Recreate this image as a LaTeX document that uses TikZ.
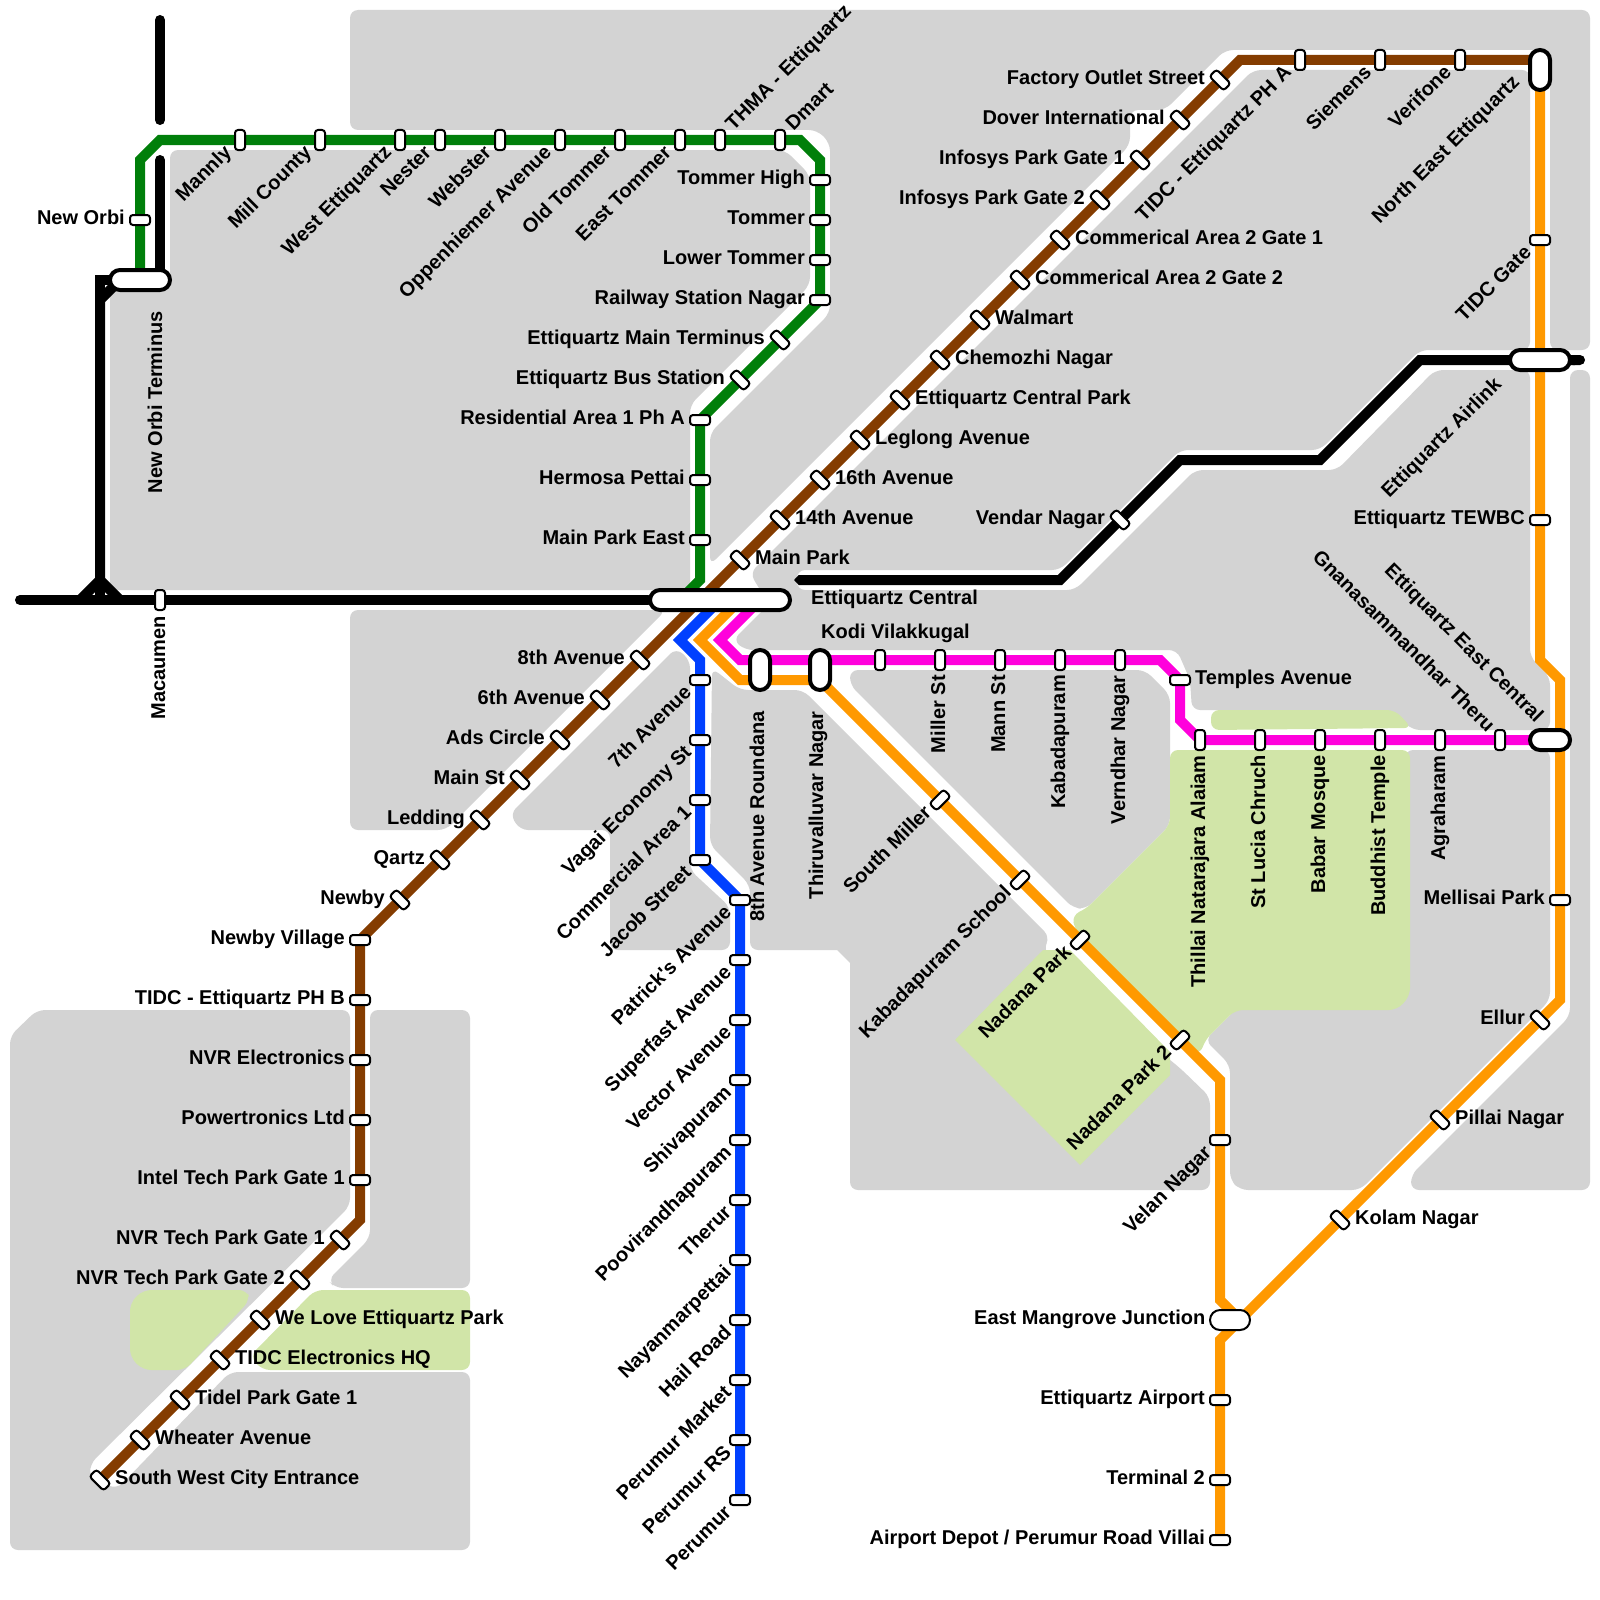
\documentclass[tikz,border=0pt]{standalone}
\usepackage{fontspec}
\usetikzlibrary{arrows.meta,positioning}
\newfontfamily\mapfont{Liberation Sans}
\pgfdeclarelayer{blocks}
\pgfdeclarelayer{tracks}
\pgfsetlayers{blocks,tracks,main}
\definecolor{blockgrey}{HTML}{D3D3D3}
\definecolor{parkgreen}{HTML}{D1E5A8}
\definecolor{linegreen}{HTML}{007F0A}
\definecolor{linebrown}{HTML}{843C00}
\definecolor{lineblue}{HTML}{0040FF}
\definecolor{lineorange}{HTML}{FF9900}
\definecolor{linepink}{HTML}{FF00DC}

\begin{document}
\begin{tikzpicture}[
  x=1pt, y=-1pt,
  stah/.style={draw, line width=2pt, fill=white, rounded corners=3pt,
               minimum width=20pt, minimum height=10pt, inner sep=0pt},
  stav/.style={stah, rotate=90},
  stad/.style={stah, rotate=-45},
  stae/.style={stah, rotate=45},
  pillh/.style={draw, line width=4pt, fill=white, rounded corners=10pt,
                minimum width=60pt, minimum height=20pt, inner sep=0pt},
  pillv/.style={pillh, minimum width=20pt, minimum height=40pt},
  lab/.style={font=\mapfont\bfseries\fontsize{20}{24}\selectfont, inner sep=0pt,
              text height=14pt, text depth=4pt},
  labl/.style={lab, yshift=0.5pt},
  labr/.style={lab, yshift=0.5pt},
  labu/.style={lab, rotate=90, anchor=east, xshift=-2pt},
  labd/.style={lab, rotate=45, anchor=east},
  labn/.style={lab, rotate=45, anchor=west},
  labs/.style={lab, rotate=-45, anchor=east},
  block/.style={fill=blockgrey, rounded corners=8pt},
  park/.style={fill=parkgreen, rounded corners=8pt},
  track/.style={line width=10pt},
  darktrack/.style={track, black},
  darkend/.style={darktrack, line cap=round}
]
\useasboundingbox (0,0) rectangle (1600,1600);

\node[stav] (mannly) at (240,140) {};
\node[below left=10pt and 11pt of mannly.center, labd] (mannlyt) {Mannly};
\node[stav] (millc) at (320,140) {};
\node[below left=10pt and 11pt of millc.center, labd] (millct) {Mill County};
\node[stav] (westet) at (400,140) {};
\node[below left=10pt and 11pt of westet.center, labd] (westett) {West Ettiquartz};
\node[stav] (nester) at (440,140) {};
\node[below left=10pt and 11pt of nester.center, labd] (nestert) {Nester};
\node[stav] (webster) at (500,140) {};
\node[below left=10pt and 11pt of webster.center, labd] (webstert) {Webster};
\node[stav] (oppen) at (560,140) {};
\node[below left=10pt and 11pt of oppen.center, labd] (oppent) {Oppenhiemer Avenue};
\node[stav] (oldtom) at (620,140) {};
\node[below left=10pt and 11pt of oldtom.center, labd] (oldtomt) {Old Tommer};
\node[stav] (easttom) at (680,140) {};
\node[below left=10pt and 11pt of easttom.center, labd] (easttomt) {East Tommer};
\node[stav] (thma) at (720,140) {};
\node[above right=12pt and 10pt of thma.center, labn] (thmat) {THMA - Ettiquartz};
\node[stav] (dmart) at (780,140) {};
\node[above right=12pt and 10pt of dmart.center, labn] (dmartt) {Dmart};
\node[stah] (tomhigh) at (820,180) {};
\node[labl, left=15pt of tomhigh.center] (tomhight) {Tommer High};
\node[stah] (tommer) at (820,220) {};
\node[labl, left=15pt of tommer.center] (tommert) {Tommer};
\node[stah] (lowtom) at (820,260) {};
\node[labl, left=15pt of lowtom.center] (lowtomt) {Lower Tommer};
\node[stah] (railn) at (820,300) {};
\node[labl, left=15pt of railn.center] (railnt) {Railway Station Nagar};
\node[stad] (mainterm) at (780,340) {};
\node[labl, left=15pt of mainterm.center] (maintermt) {Ettiquartz Main Terminus};
\node[stad] (busst) at (740,380) {};
\node[labl, left=15pt of busst.center] (busstt) {Ettiquartz Bus Station};
\node[stah] (resid) at (700,420) {};
\node[labl, left=15pt of resid.center] (residt) {Residential Area 1 Ph A};
\node[stah] (hermosa) at (700,480) {};
\node[labl, left=15pt of hermosa.center] (hermosat) {Hermosa Pettai};
\node[stah] (parkeast) at (700,540) {};
\node[labl, left=15pt of parkeast.center] (parkeastt) {Main Park East};
\node[stah] (neworbi) at (140,220) {};
\node[labl, left=15pt of neworbi.center] (neworbit) {New Orbi};
\node[pillh] (orbiterm) at (140,280) {};
\node[lab, rotate=90, anchor=east] (orbitermt) at (157,311) {New Orbi Terminus};
\node[stav] (macau) at (160,600) {};
\node[below=14pt of macau.center, labu] (macaut) {Macaumen};

\node[stad] (swcity) at (100,1480) {};
\node[labr, right=15pt of swcity.center] (swcityt) {South West City Entrance};
\node[stad] (wheater) at (140,1440) {};
\node[labr, right=15pt of wheater.center] (wheatert) {Wheater Avenue};
\node[stad] (tidel) at (180,1400) {};
\node[labr, right=15pt of tidel.center] (tidelt) {Tidel Park Gate 1};
\node[stad] (tidchq) at (220,1360) {};
\node[labr, right=15pt of tidchq.center] (tidchqt) {TIDC Electronics HQ};
\node[stad] (welove) at (260,1320) {};
\node[labr, right=15pt of welove.center] (welovet) {We Love Ettiquartz Park};
\node[stad] (nvrtwo) at (300,1280) {};
\node[labl, left=15pt of nvrtwo.center] (nvrtwot) {NVR Tech Park Gate 2};
\node[stad] (nvrone) at (340,1240) {};
\node[labl, left=15pt of nvrone.center] (nvronet) {NVR Tech Park Gate 1};
\node[stah] (intel) at (360,1180) {};
\node[labl, left=15pt of intel.center] (intelt) {Intel Tech Park Gate 1};
\node[stah] (power) at (360,1120) {};
\node[labl, left=15pt of power.center] (powert) {Powertronics Ltd};
\node[stah] (nvrel) at (360,1060) {};
\node[labl, left=15pt of nvrel.center] (nvrelt) {NVR Electronics};
\node[stah] (tidcb) at (360,1000) {};
\node[labl, left=15pt of tidcb.center] (tidcbt) {TIDC - Ettiquartz PH B};
\node[stah] (newbyv) at (360,940) {};
\node[labl, left=15pt of newbyv.center] (newbyvt) {Newby Village};
\node[stad] (newby) at (400,900) {};
\node[labl, left=15pt of newby.center] (newbyt) {Newby};
\node[stad] (qartz) at (440,860) {};
\node[labl, left=15pt of qartz.center] (qartzt) {Qartz};
\node[stad] (ledding) at (480,820) {};
\node[labl, left=15pt of ledding.center] (leddingt) {Ledding};
\node[stad] (mainst) at (520,780) {};
\node[labl, left=15pt of mainst.center] (mainstt) {Main St};
\node[stad] (adscirc) at (560,740) {};
\node[labl, left=15pt of adscirc.center] (adscirct) {Ads Circle};
\node[stad] (avsix) at (600,700) {};
\node[labl, left=15pt of avsix.center] (avsixt) {6th Avenue};
\node[stad] (aveight) at (640,660) {};
\node[labl, left=15pt of aveight.center] (aveightt) {8th Avenue};
\node[stad] (mainpark) at (740,560) {};
\node[labr, right=15pt of mainpark.center] (mainparkt) {Main Park};
\node[stad] (avfourt) at (780,520) {};
\node[labr, right=15pt of avfourt.center] (avfourtt) {14th Avenue};
\node[stad] (avsixteen) at (820,480) {};
\node[labr, right=15pt of avsixteen.center] (avsixteent) {16th Avenue};
\node[stad] (leglong) at (860,440) {};
\node[labr, right=15pt of leglong.center] (leglongt) {Leglong Avenue};
\node[stad] (cpark) at (900,400) {};
\node[labr, right=15pt of cpark.center] (cparkt) {Ettiquartz Central Park};
\node[stad] (chemozhi) at (940,360) {};
\node[labr, right=15pt of chemozhi.center] (chemozhit) {Chemozhi Nagar};
\node[stad] (walmart) at (980,320) {};
\node[labr, right=15pt of walmart.center] (walmartt) {Walmart};
\node[stad] (cagtwo) at (1020,280) {};
\node[labr, right=15pt of cagtwo.center] (cagtwot) {Commerical Area 2 Gate 2};
\node[stad] (cagone) at (1060,240) {};
\node[labr, right=15pt of cagone.center] (cagonet) {Commerical Area 2 Gate 1};
\node[stad] (inftwo) at (1100,200) {};
\node[labl, left=15pt of inftwo.center] (inftwot) {Infosys Park Gate 2};
\node[stad] (infone) at (1140,160) {};
\node[labl, left=15pt of infone.center] (infonet) {Infosys Park Gate 1};
\node[stad] (dover) at (1180,120) {};
\node[labl, left=15pt of dover.center] (dovert) {Dover International};
\node[stad] (factory) at (1220,80) {};
\node[labl, left=15pt of factory.center] (factoryt) {Factory Outlet Street};
\node[stav] (tidca) at (1300,60) {};
\node[below left=10pt and 11pt of tidca.center, labd] (tidcat) {TIDC - Ettiquartz PH A};
\node[stav] (siemens) at (1380,60) {};
\node[below left=10pt and 11pt of siemens.center, labd] (siemenst) {Siemens};
\node[stav] (verifone) at (1460,60) {};
\node[below left=10pt and 11pt of verifone.center, labd] (verifonet) {Verifone};
\node[pillv] (nepill) at (1540,70) {};
\node[lab, rotate=45, anchor=east] (nepillt) at (1517,80) {North East Ettiquartz};

\node[pillh, minimum width=140pt] (central) at (720,600) {};
\node[labr, anchor=west] (centralt) at (811,600) {Ettiquartz Central};
\node[stah] (avseven) at (700,680) {};
\node[below left=10pt and 11pt of avseven.center, labd] (avsevent) {7th Avenue};
\node[stah] (vagai) at (700,740) {};
\node[below left=10pt and 11pt of vagai.center, labd] (vagait) {Vagai Economy St};
\node[stah] (commone) at (700,800) {};
\node[below left=10pt and 11pt of commone.center, labd] (commonet) {Commercial Area 1};
\node[stah] (jacob) at (700,860) {};
\node[below left=10pt and 11pt of jacob.center, labd] (jacobt) {Jacob Street};
\node[stah] (patrick) at (740,900) {};
\node[below left=10pt and 11pt of patrick.center, labd] (patrickt) {Patrick's Avenue};
\node[stah] (superf) at (740,960) {};
\node[below left=10pt and 11pt of superf.center, labd] (superft) {Superfast Avenue};
\node[stah] (vector) at (740,1020) {};
\node[below left=10pt and 11pt of vector.center, labd] (vectort) {Vector Avenue};
\node[stah] (shiva) at (740,1080) {};
\node[below left=10pt and 11pt of shiva.center, labd] (shivat) {Shivapuram};
\node[stah] (poovi) at (740,1140) {};
\node[below left=10pt and 11pt of poovi.center, labd] (poovit) {Poovirandhapuram};
\node[stah] (therur) at (740,1200) {};
\node[below left=10pt and 11pt of therur.center, labd] (therurt) {Therur};
\node[stah] (nayan) at (740,1260) {};
\node[below left=10pt and 11pt of nayan.center, labd] (nayant) {Nayanmarpettai};
\node[stah] (hail) at (740,1320) {};
\node[below left=10pt and 11pt of hail.center, labd] (hailt) {Hail Road};
\node[stah] (pmarket) at (740,1380) {};
\node[below left=10pt and 11pt of pmarket.center, labd] (pmarkett) {Perumur Market};
\node[stah] (prs) at (740,1440) {};
\node[below left=10pt and 11pt of prs.center, labd] (prst) {Perumur RS};
\node[stah] (perumur) at (740,1500) {};
\node[below left=10pt and 11pt of perumur.center, labd] (perumurt) {Perumur};

\node[pillv] (roundana) at (760,670) {};
\node[lab, rotate=90, anchor=east] (roundanat) at (759,711) {8th Avenue Roundana};
\node[pillv] (thiru) at (820,670) {};
\node[lab, rotate=90, anchor=east] (thirut) at (818,711) {Thiruvalluvar Nagar};
\node[stae] (southm) at (940,800) {};
\node[below left=10pt and 11pt of southm.center, labd] (southmt) {South Miller};
\node[stae] (kabsch) at (1020,880) {};
\node[below left=10pt and 11pt of kabsch.center, labd] (kabscht) {Kabadapuram School};
\node[stae] (nadana) at (1080,940) {};
\node[below left=10pt and 11pt of nadana.center, labd] (nadanat) {Nadana Park};
\node[stae] (nadtwo) at (1180,1040) {};
\node[below left=10pt and 11pt of nadtwo.center, labd] (nadtwot) {Nadana Park 2};
\node[stah] (velan) at (1220,1140) {};
\node[below left=10pt and 11pt of velan.center, labd] (velant) {Velan Nagar};
\node[pillh, line width=2pt, minimum width=40pt] (mangrove) at (1230,1320) {};
\node[labl, anchor=east] (mangrovet) at (1205.5,1320) {East Mangrove Junction};
\node[stah] (airport) at (1220,1400) {};
\node[labl, left=15pt of airport.center] (airportt) {Ettiquartz Airport};
\node[stah] (termtwo) at (1220,1480) {};
\node[labl, left=15pt of termtwo.center] (termtwot) {Terminal 2};
\node[stah] (depot) at (1220,1540) {};
\node[labl, left=15pt of depot.center] (depott) {Airport Depot / Perumur Road Villai};
\node[stah] (tidcg) at (1540,240) {};
\node[below left=10pt and 11pt of tidcg.center, labd] (tidcgt) {TIDC Gate};
\node[pillh] (airlink) at (1540,360) {};
\node[lab, rotate=45, anchor=east] (airlinkt) at (1499,382) {Ettiquartz Airlink};
\node[stah] (tewbc) at (1540,520) {};
\node[labl, left=15pt of tewbc.center] (tewbct) {Ettiquartz TEWBC};
\node[stah] (mellisai) at (1560,900) {};
\node[labl, left=15pt of mellisai.center] (mellisait) {Mellisai Park};
\node[stad] (ellur) at (1540,1020) {};
\node[labl, left=15pt of ellur.center] (ellurt) {Ellur};
\node[stad] (pillai) at (1440,1120) {};
\node[labr, right=15pt of pillai.center] (pillait) {Pillai Nagar};
\node[stad] (kolam) at (1340,1220) {};
\node[labr, right=15pt of kolam.center] (kolamt) {Kolam Nagar};
\node[stad] (vendar) at (1120,520) {};
\node[labl, left=15pt of vendar.center] (vendart) {Vendar Nagar};

\node[stav] (kodi) at (880,660) {};
\node[labl, anchor=west] (kodit) at (821,634) {Kodi Vilakkugal};
\node[stav] (millerst) at (940,660) {};
\node[below=13pt of millerst.center, labu] (millerstt) {Miller St};
\node[stav] (mannst) at (1000,660) {};
\node[below=13pt of mannst.center, labu] (mannstt) {Mann St};
\node[stav] (kabad) at (1060,660) {};
\node[below=13pt of kabad.center, labu] (kabadt) {Kabadapuram};
\node[stav] (verndhar) at (1120,660) {};
\node[below=13pt of verndhar.center, labu] (verndhart) {Verndhar Nagar};
\node[stah] (temples) at (1180,680) {};
\node[labr, right=15pt of temples.center] (templest) {Temples Avenue};
\node[stav] (thillai) at (1200,740) {};
\node[below=13pt of thillai.center, labu] (thillait) {Thillai Natarajara Alaiam};
\node[stav] (stlucia) at (1260,740) {};
\node[below=13pt of stlucia.center, labu] (stluciat) {St Lucia Chruch};
\node[stav] (babar) at (1320,740) {};
\node[below=13pt of babar.center, labu] (babart) {Babar Mosque};
\node[stav] (buddhist) at (1380,740) {};
\node[below=13pt of buddhist.center, labu] (buddhistt) {Buddhist Temple};
\node[stav] (agra) at (1440,740) {};
\node[below=13pt of agra.center, labu] (agrat) {Agraharam};
\node[stav] (gnana) at (1500,740) {};
\node[above left=10pt and 9.5pt of gnana.center, labs] (gnanat) {Gnanasammandhar Theru};
\node[pillh, minimum width=40pt] (eastcen) at (1550,740) {};
\node[lab, rotate=-45, anchor=east] (eastcent) at (1539,720) {Ettiquartz East Central};

\coordinate (grA) at (140,280);
\coordinate (grB) at (140,160);
\coordinate (grC) at (160,140);
\coordinate (grD) at (800,140);
\coordinate (grE) at (820,160);
\coordinate (grF) at (700,580);
\coordinate (grG) at (680,600);
\coordinate (brA) at (360,1220);
\coordinate (brB) at (1240,60);
\coordinate (brC) at (1540,60);
\coordinate (blA) at (720,600);
\coordinate (blB) at (680,640);
\coordinate (blC) at (700,660);
\coordinate (orA) at (740,600);
\coordinate (orB) at (700,640);
\coordinate (orC) at (740,680);
\coordinate (orD) at (820,680);
\coordinate (orE) at (1220,1080);
\coordinate (orF) at (1220,1300);
\coordinate (orG) at (1240,1320);
\coordinate (orH) at (1220,1340);
\coordinate (orI) at (1560,1000);
\coordinate (orJ) at (1560,680);
\coordinate (orK) at (1540,660);
\coordinate (piA) at (760,600);
\coordinate (piB) at (720,640);
\coordinate (piC) at (740,660);
\coordinate (piD) at (1160,660);
\coordinate (piE) at (1180,720);
\coordinate (piF) at (1540,740);
\coordinate (daA) at (160,20);
\coordinate (daB) at (160,120);
\coordinate (daC) at (160,160);
\coordinate (daD) at (160,280);
\coordinate (daE) at (100,280);
\coordinate (daF) at (100,580);
\coordinate (daG) at (80,600);
\coordinate (daH) at (120,600);
\coordinate (daI) at (120,280);
\coordinate (daJ) at (100,300);
\coordinate (daK) at (20,600);
\coordinate (daL) at (794,580);
\coordinate (daM) at (1060,580);
\coordinate (daN) at (1180,460);
\coordinate (daO) at (1320,460);
\coordinate (daP) at (1420,360);
\coordinate (daQ) at (1585,360);
\coordinate (daR) at (100,600);

\begin{pgfonlayer}{blocks}
\fill[block] (350,10) -- (1590,10) -- (1590,350) -- (1550,350) -- (1550,50) -- (1225,50)
  -- (1165,110) -- (1130,110) -- (1130,145) -- (710,565) -- (710,433) -- (830,313)
  -- (830,143) -- (817,130) -- (350,130) -- cycle;
\fill[block] (170,150) -- (785,150) -- (810,175) -- (810,285) -- (690,405) -- (690,590)
  -- (110,590) -- (110,285) -- (170,285) -- cycle;
\fill[block] (1253,70) -- (1530,70) -- (1530,350) -- (1420,350) -- (1320,450) -- (1180,450)
  -- (1060,570) -- (797,570) -- (797,590) -- (1075,590) -- (1195,470) -- (1337,470)
  -- (1435,370) -- (1530,370) -- (1530,657) -- (1550,677) -- (1550,730) -- (1412,730)
  -- (1392,710) -- (1192,710) -- (1190,680) -- (1177,650) -- (745,650) -- (733,640)
  -- (770,603) -- (760,590) -- (750,573) -- cycle;
\fill[block] (350,610) -- (666,610) -- (446,830) -- (350,830) -- cycle;
\fill[block] (676,648) -- (690,660) -- (690,870) -- (730,907) -- (730,950) -- (610,950)
  -- (610,830) -- (520,830) -- (510,814) -- cycle;
\fill[block] (712,668) -- (740,690) -- (803,690) -- (1050,937) -- (1043,950) -- (1170,1060)
  -- (1180,1068) -- (1210,1097) -- (1210,1190) -- (850,1190)
  [sharp corners] -- (850,963) -- (837,950)
  [rounded corners=8pt] -- (750,950) -- (750,885) -- (710,845) -- cycle;
\fill[block] (850,670) -- (1145,670) -- (1170,695) -- (1170,825) -- (1086,909) -- (1073,908)
  -- (850,685) -- cycle;
\fill[block] (1405,750) -- (1550,750) -- (1550,1000) -- (1360,1190) -- (1240,1190)
  -- (1230,1180) -- (1230,1065) -- (1205,1040) -- (1240,1005) -- (1405,1005) -- cycle;
\fill[block] (1570,370) -- (1590,370) -- (1590,1190) -- (1411,1190) -- (1411,1175)
  -- (1570,1016) -- cycle;
\fill[block] (10,1036) -- (37,1010) -- (350,1010) -- (350,1206) -- (90,1464) -- (90,1478)
  -- (117,1489) -- (230,1372) -- (470,1372) -- (470,1550) -- (10,1550) -- cycle;
\fill[block] (370,1010) -- (470,1010) -- (470,1288) -- (335,1288) -- (328,1280)
  -- (370,1238) -- cycle;
\fill[park] (1170,750) -- (1410,750) -- (1410,996) -- (1397,1010) -- (1235,1010)
  -- (1205,1040) -- (1200,1055) -- (1185,1045) -- (1075,930) -- (1072,915) -- (1086,909)
  -- (1170,825) -- cycle;
\fill[park, rounded corners=0pt] (1043,950) -- (1070,950) -- (1170,1052) -- (1170,1075)
  -- (1080,1165) -- (955,1040) -- cycle;
\fill[park] (1211,710) -- (1395,710) -- (1412,728) -- (1211,730) -- cycle;
\fill[park] (130,1303) -- (143,1290) -- (247,1290) -- (250,1300) -- (185,1370) -- (143,1370)
  -- (130,1357) -- cycle;
\fill[park] (315,1290) -- (470,1290) -- (470,1370) -- (262,1370) -- (250,1356) -- cycle;
\end{pgfonlayer}

\begin{pgfonlayer}{tracks}
\draw[track, linegreen] (grA) -- (grB) -- (grC) -- (grD) -- (grE) -- (railn.center)
  -- (resid.center) -- (grF) -- (grG);
\draw[track, linebrown] (swcity.center) -- (brA) -- (newbyv.center) -- (brB) -- (brC);
\draw[track, lineblue] (blA) -- (blB) -- (blC) -- (jacob.center) -- (patrick.center)
  -- (perumur.center);
\draw[track, lineorange] (orA) -- (orB) -- (orC) -- (orD) -- (orE) -- (orF) -- (orG)
  -- (orH) -- (depot.center);
\draw[track, lineorange] (orG) -- (orI) -- (orJ) -- (orK) -- (nepill.center);
\draw[track, linepink] (piA) -- (piB) -- (piC) -- (piD) -- (temples.center) -- (piE)
  -- (thillai.center) -- (piF);
\draw[darkend] (daA) -- (daB);
\draw[darkend] (daC) -- (daD);
\draw[darkend] (daK) -- (central);
\draw[darktrack] (orbiterm) -- (daE) -- (daR);
\draw[darktrack] (orbiterm) -- (daI) -- (daJ) -- (daF) -- (daH);
\draw[darktrack] (daF) -- (daG);
\draw[darktrack, {Triangle[width=10pt,length=5pt]}-{Round Cap[]}] (daL) -- (daM) -- (daN) -- (daO) -- (daP) -- (daQ);
\end{pgfonlayer}
\end{tikzpicture}
\end{document}
